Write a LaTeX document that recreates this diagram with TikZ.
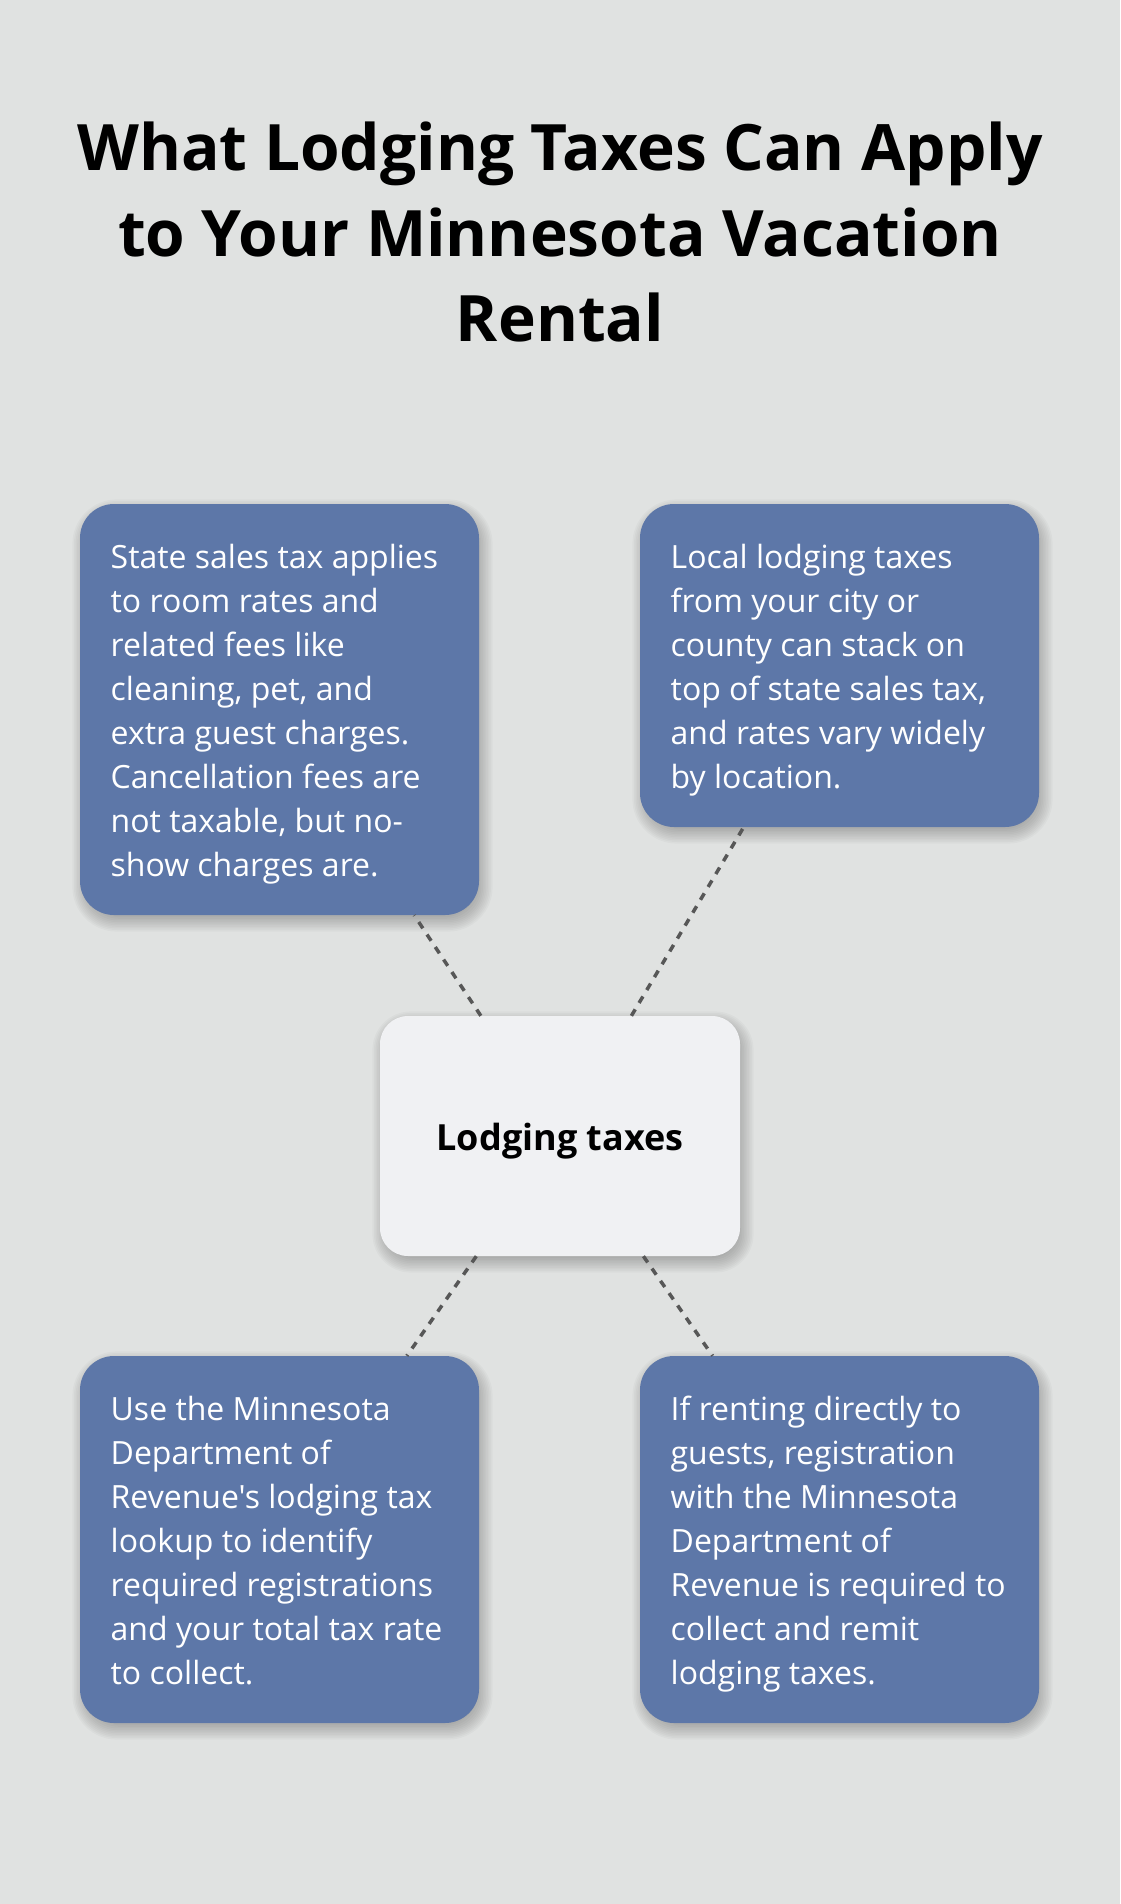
\documentclass[tikz,border=0pt]{standalone}
\usepackage{fontspec}
\newfontfamily\osans{Open Sans}
\definecolor{bgcol}{HTML}{E0E2E1}
\definecolor{boxblue}{HTML}{5D77A8}
\definecolor{centerfill}{HTML}{F0F1F3}
\definecolor{dashcol}{HTML}{575757}
\newcommand\topstrut{\rule{0pt}{34.4pt}}
\newcommand\cstrut{\rule[-10.5pt]{0pt}{49pt}}
\pgfdeclarelayer{bottomlayer}
\pgfdeclarelayer{shadowlayer}
\pgfsetlayers{bottomlayer,shadowlayer,main}
\tikzset{
  bluebox/.style={fill=boxblue, draw=none, rounded corners=34pt, minimum width=399pt, inner sep=0pt},
  centerbox/.style={fill=centerfill, draw=none, rounded corners=28pt, minimum width=360pt, minimum height=240pt, inner sep=0pt,
    font=\osans\bfseries\fontsize{36pt}{44pt}\selectfont, text=black},
  boxtext/.style={anchor=north west, inner sep=0pt, align=left, text=white,
    font=\osans\fontsize{32pt}{44pt}\selectfont},
  titletext/.style={anchor=base, inner sep=0pt, text=black,
    font=\osans\bfseries\fontsize{64pt}{85pt}\selectfont},
  link/.style={draw=dashcol, line width=3.5pt, dash pattern=on 7.5pt off 7.5pt},
  shadowlayerfill/.style={fill=black, fill opacity=0.022},
}
\newcommand\softshadow[2]{%
  \foreach \k in {0,...,9}{%
    \pgfmathsetmacro\e{1.6*\k-4}%
    \pgfmathsetmacro\r{#2+max(0,1.6*\k-4)}%
    \fill[shadowlayerfill, rounded corners=\r pt]
      ([shift={(3-\e,6-\e)}]#1.north west) rectangle ([shift={(3+\e,6+\e)}]#1.south east);
  }%
}
\begin{document}
\begin{tikzpicture}[x=1pt,y=-1pt]
\begin{pgfonlayer}{bottomlayer}
\fill[bgcol] (0,0) rectangle (1120,1904);
\end{pgfonlayer}
\useasboundingbox (0,0) rectangle (1120,1904);

\node[titletext] (title1) at (560,170.5) {What Lodging Taxes Can Apply};
\node[titletext] (title2) at (560,256) {to Your Minnesota Vacation};
\node[titletext] (title3) at (560,341.5) {Rental};

\node[bluebox, minimum height=411pt] (tl) at (279.5,709.5) {};
\node[bluebox, minimum height=323pt] (tr) at (839.5,665.5) {};
\node[bluebox, minimum height=367pt] (bl) at (279.5,1539.5) {};
\node[bluebox, minimum height=367pt] (br) at (839.5,1539.5) {};
\node[centerbox] (c) at (560,1136) {\cstrut Lodging taxes};

\begin{pgfonlayer}{shadowlayer}
\softshadow{tl}{34}
\softshadow{tr}{34}
\softshadow{bl}{34}
\softshadow{br}{34}
\softshadow{c}{28}
\end{pgfonlayer}

\node[boxtext] (tltext) at ([xshift=30.7pt,yshift=-29.6pt]tl.north west) {\topstrut State sales tax applies\\to room rates and\\related fees like\\cleaning, pet, and\\extra guest charges.\\Cancellation fees are\\not taxable, but no-\\show charges are.};
\node[boxtext] (trtext) at ([xshift=30.7pt,yshift=-29.6pt]tr.north west) {\topstrut Local lodging taxes\\from your city or\\county can stack on\\top of state sales tax,\\and rates vary widely\\by location.};
\node[boxtext] (bltext) at ([xshift=30.7pt,yshift=-29.6pt]bl.north west) {\topstrut Use the Minnesota\\Department of\\Revenue's lodging tax\\lookup to identify\\required registrations\\and your total tax rate\\to collect.};
\node[boxtext] (brtext) at ([xshift=30.7pt,yshift=-29.6pt]br.north west) {\topstrut If renting directly to\\guests, registration\\with the Minnesota\\Department of\\Revenue is required to\\collect and remit\\lodging taxes.};

\draw[link] (c) -- (tl);
\draw[link] (c) -- (tr);
\draw[link] (c) -- (bl);
\draw[link] (c) -- (br);
\end{tikzpicture}
\end{document}
